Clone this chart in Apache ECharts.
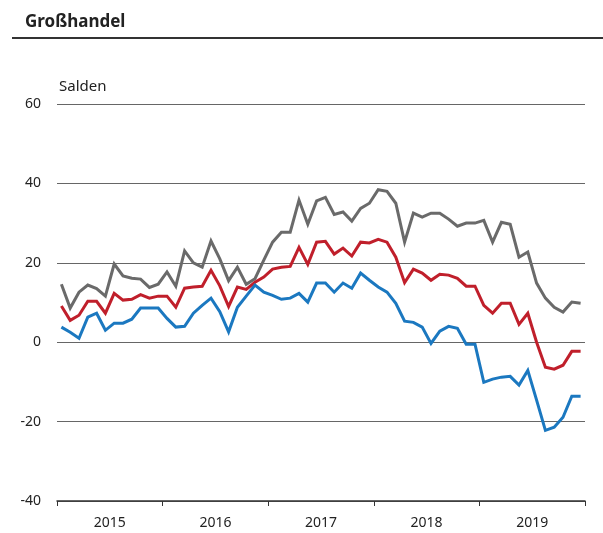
<!DOCTYPE html>
<html>
<head>
<meta charset="utf-8">
<script src="https://cdn.jsdelivr.net/npm/echarts@6/dist/echarts.min.js"></script>
<style>
  html, body { margin: 0; padding: 0; background: #fff; }
  #container { width: 603px; height: 533px; }
</style>
</head>
<body>
<div id="container"></div>
<script>
var years = ['2015', '2016', '2017', '2018', '2019'];

var months = [];
years.forEach(function (y) {
    for (var m = 1; m <= 12; m++) months.push(y + '-' + m);
});

var greyValues = [
    14.6, 8.6, 12.6, 14.4, 13.5, 11.6, 19.7, 16.7, 16.1, 15.9, 13.8, 14.6,
    17.7, 14.1, 23.0, 20.0, 18.9, 25.5, 21.0, 15.5, 18.9, 14.6, 16.0, 20.7,
    25.2, 27.7, 27.7, 35.8, 29.7, 35.6, 36.5, 32.2, 32.8, 30.5, 33.7, 35.0,
    38.4, 38.0, 35.0, 25.2, 32.5, 31.5, 32.5, 32.5, 31.0, 29.2, 30.0, 30.0,
    30.7, 25.2, 30.2, 29.7, 21.4, 22.7, 14.9, 11.1, 8.8, 7.6, 10.1, 9.8
];

var redValues = [
    9.1, 5.5, 6.8, 10.3, 10.3, 7.3, 12.3, 10.6, 10.8, 12.0, 11.1, 11.6,
    11.6, 8.8, 13.6, 13.9, 14.1, 18.1, 14.2, 9.0, 13.9, 13.3, 15.1, 16.4,
    18.4, 18.9, 19.1, 23.9, 19.6, 25.2, 25.4, 22.2, 23.7, 21.7, 25.2, 25.0,
    25.9, 25.2, 21.4, 15.0, 18.4, 17.4, 15.6, 17.1, 16.9, 16.1, 14.1, 14.1,
    9.3, 7.3, 9.8, 9.8, 4.5, 7.3, 0.0, -6.3, -6.8, -5.8, -2.3, -2.3
];

var blueValues = [
    3.8, 2.5, 1.0, 6.3, 7.3, 3.0, 4.8, 4.8, 5.8, 8.6, 8.6, 8.6,
    6.0, 3.8, 4.0, 7.3, 9.3, 11.1, 7.7, 2.6, 8.8, 11.6, 14.4, 12.6,
    11.8, 10.8, 11.1, 12.3, 10.1, 14.9, 14.9, 12.6, 14.9, 13.6, 17.4, 15.6,
    13.9, 12.6, 9.8, 5.3, 5.0, 3.8, -0.3, 2.8, 4.0, 3.5, -0.5, -0.5,
    -10.1, -9.3, -8.8, -8.6, -10.8, -7.1, -14.6, -22.2, -21.4, -18.9, -13.6, -13.6
];

var yTicks = [-40, -20, 0, 20, 40, 60];

var font = '"Noto Sans", "Open Sans", sans-serif';

var myChart = echarts.init(document.getElementById('container'));

function line(data, color, z) {
    return {
        type: 'line',
        data: data,
        xAxisIndex: 0,
        symbol: 'none',
        z: z,
        lineStyle: { color: color, width: 3, join: 'miter' }
    };
}

myChart.setOption({
    animation: false,
    backgroundColor: '#fff',
    graphic: [
        {
            type: 'text', left: 25, top: 14,
            style: { text: 'Großhandel', font: 'bold 17px ' + font, fill: '#222' }
        },
        {
            type: 'line', shape: { x1: 12, y1: 38, x2: 603, y2: 38 },
            style: { stroke: '#333', lineWidth: 2 }
        },
        {
            type: 'text', left: 59, top: 79,
            style: { text: 'Salden', font: '15px ' + font, fill: '#222' }
        }
    ],
    grid: { left: 57, right: 18, top: 104, bottom: 32 },
    xAxis: [
        {
            type: 'category',
            data: months,
            boundaryGap: true,
            show: false
        },
        {
            type: 'category',
            data: years,
            boundaryGap: true,
            position: 'bottom',
            axisLine: { show: true, lineStyle: { color: '#333', width: 1.5 } },
            axisTick: { show: true, interval: 0, length: 5, lineStyle: { color: '#333', width: 1 } },
            axisLabel: { color: '#222', fontSize: 14, fontFamily: font, margin: 15 },
            splitLine: { show: false }
        }
    ],
    yAxis: {
        type: 'value',
        min: yTicks[0],
        max: yTicks[yTicks.length - 1],
        interval: 20,
        axisLine: { show: false },
        axisTick: { show: false },
        axisLabel: { color: '#222', fontSize: 14, fontFamily: font, margin: 16 },
        splitLine: { lineStyle: { color: '#666', width: 1 } }
    },
    series: [
        line(greyValues, '#6a6a6a', 3),
        line(redValues, '#c01f2b', 4),
        line(blueValues, '#1b78c0', 5)
    ]
});
</script>
</body>
</html>
